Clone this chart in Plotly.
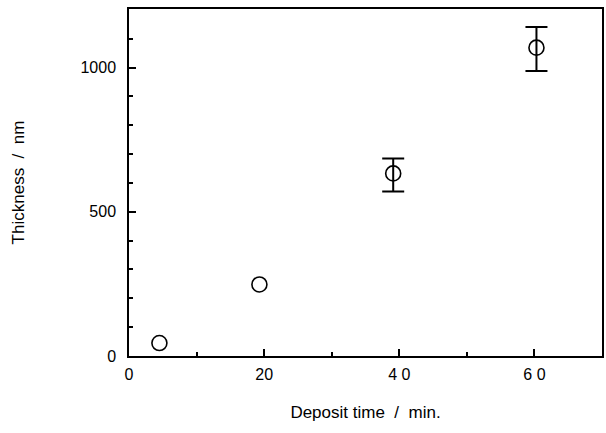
import plotly.graph_objects as go

time_min = [4.5, 19.3, 39.1, 60.3]
thickness_nm = [45, 248, 633, 1069]
err_plus = [0, 0, 52, 72]
err_minus = [0, 0, 63, 81]

x_tickvals = [0, 20, 40, 60]
x_ticktext = ["0", "20", "4 0", "6 0"]
y_tickvals = [0, 500, 1000]
y_ticktext = ["0", "500", "1000"]

marker = dict(symbol="circle-open", size=15, color="black", line=dict(width=1.6, color="black"))
fig = go.Figure()
# points without error bars
fig.add_trace(go.Scatter(x=time_min[:2], y=thickness_nm[:2], mode="markers",
                         marker=marker, showlegend=False))
# points with error bars
fig.add_trace(go.Scatter(
    x=time_min[2:], y=thickness_nm[2:], mode="markers", marker=marker,
    error_y=dict(type="data", symmetric=False, array=err_plus[2:], arrayminus=err_minus[2:],
                 color="black", thickness=2, width=11),
    showlegend=False,
))

font = dict(family="Liberation Sans, Arial, sans-serif", color="black")
fig.update_layout(
    width=606, height=433,
    margin=dict(l=129, r=2, t=9, b=77),
    paper_bgcolor="white", plot_bgcolor="white",
    font=dict(size=16, **font),
    xaxis=dict(range=[0, 70], tickvals=x_tickvals, ticktext=x_ticktext,
               ticks="inside", ticklen=7, tickwidth=1.5, tickcolor="black",
               minor=dict(dtick=10, tick0=0, ticks="inside", ticklen=4, tickwidth=1.5, tickcolor="black"),
               showline=True, linecolor="black", linewidth=1.5, mirror=True,
               showgrid=False, zeroline=False, ticklabelstandoff=3,
               tickfont=dict(size=16, **font),
               title=dict(text="Deposit time  /  min.", font=dict(size=17, **font), standoff=24)),
    yaxis=dict(range=[0, 1203], tickvals=y_tickvals, ticktext=y_ticktext,
               ticks="inside", ticklen=7, tickwidth=1.5, tickcolor="black",
               minor=dict(dtick=100, tick0=0, ticks="inside", ticklen=4, tickwidth=1.5, tickcolor="black"),
               showline=True, linecolor="black", linewidth=1.5, mirror=True,
               showgrid=False, zeroline=False, ticklabelstandoff=8,
               tickfont=dict(size=16, **font),
               title=dict(text="Thickness  /  nm", font=dict(size=17, **font), standoff=52)),
)

fig.write_html("out.html")
